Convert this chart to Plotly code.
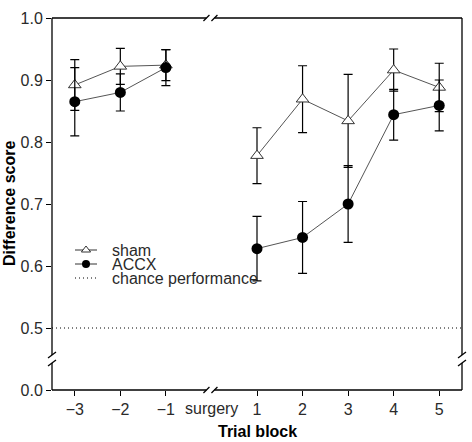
import plotly.graph_objects as go

# ---- data ----
categories = ["\u22123", "\u22122", "\u22121", "surgery", "1", "2", "3", "4", "5"]
sham = [0.892, 0.922, 0.924, None, 0.778, 0.869, 0.834, 0.916, 0.888]
sham_err = [0.041, 0.029, 0.025, None, 0.045, 0.054, 0.075, 0.034, 0.039]
accx = [0.865, 0.880, 0.920, None, 0.628, 0.646, 0.700, 0.844, 0.859]
accx_err = [0.055, 0.030, 0.029, None, 0.052, 0.058, 0.062, 0.041, 0.041]
chance = 0.5
y_tick_vals = [0.4, 0.5, 0.6, 0.7, 0.8, 0.9, 1.0]
y_tick_text = ["0.0", "0.5", "0.6", "0.7", "0.8", "0.9", "1.0"]
break_cat = "surgery"

xpos = list(range(len(categories)))
tick_idx = [i for i, c in enumerate(categories) if c != break_cat]
break_idx = categories.index(break_cat)

# ---- layout geometry (pixels) ----
W, H = 472, 442
L, R, T, B = 52, 10, 18, 52
PW, PH = W - L - R, H - T - B
XR = [-0.5, len(categories) - 0.5]
YR = [0.4, 1.0]


def fx(p):
    return (p - L) / PW


def fy(p):
    return (H - B - p) / PH


FONT = "Liberation Sans, Arial, sans-serif"
TXT = "#2a2a2a"

fig = go.Figure()

# chance line
fig.add_trace(go.Scatter(
    x=XR, y=[chance, chance], mode="lines",
    line=dict(color="black", width=1, dash="1px,3px"),
    showlegend=False, hoverinfo="skip"))

fig.add_trace(go.Scatter(
    x=xpos, y=sham, mode="lines+markers", name="sham",
    line=dict(color="#555555", width=1),
    marker=dict(symbol="triangle-up", size=11, color="white",
                line=dict(color="#333333", width=1)),
    error_y=dict(type="data", array=sham_err, color="black",
                 thickness=1.2, width=4.5),
    connectgaps=False, showlegend=False))

fig.add_trace(go.Scatter(
    x=xpos, y=accx, mode="lines+markers", name="ACCX",
    line=dict(color="#555555", width=1),
    marker=dict(symbol="circle", size=11, color="black",
                line=dict(color="black", width=0)),
    error_y=dict(type="data", array=accx_err, color="black",
                 thickness=1.2, width=4.5),
    connectgaps=False, showlegend=False))

# ---- manual legend glyphs on a hidden overlay axis (paper-like 0..1) ----
leg_rows = [250, 264, 278]
gx0, gx1, gm = 75, 97, 86
fig.add_trace(go.Scatter(
    x=[fx(gx0), fx(gx1)], y=[fy(leg_rows[0])] * 2, mode="lines",
    line=dict(color="#333333", width=1), xaxis="x2", yaxis="y2",
    showlegend=False, hoverinfo="skip"))
fig.add_trace(go.Scatter(
    x=[fx(gm)], y=[fy(leg_rows[0])], mode="markers",
    marker=dict(symbol="triangle-up", size=8, color="white",
                line=dict(color="#333333", width=1)),
    xaxis="x2", yaxis="y2", showlegend=False, hoverinfo="skip"))
fig.add_trace(go.Scatter(
    x=[fx(gx0), fx(gx1)], y=[fy(leg_rows[1])] * 2, mode="lines",
    line=dict(color="#333333", width=1), xaxis="x2", yaxis="y2",
    showlegend=False, hoverinfo="skip"))
fig.add_trace(go.Scatter(
    x=[fx(gm)], y=[fy(leg_rows[1])], mode="markers",
    marker=dict(symbol="circle", size=8, color="black"),
    xaxis="x2", yaxis="y2", showlegend=False, hoverinfo="skip"))
fig.add_trace(go.Scatter(
    x=[fx(gx0), fx(gx1 + 1)], y=[fy(leg_rows[2])] * 2, mode="lines",
    line=dict(color="black", width=1, dash="1px,3px"),
    xaxis="x2", yaxis="y2", showlegend=False, hoverinfo="skip"))

annotations = []
for row, label in zip(leg_rows, ["sham", "ACCX", "chance performance"]):
    annotations.append(dict(
        x=fx(110), y=fy(row), xref="paper", yref="paper",
        xanchor="left", yanchor="middle", showarrow=False, text=label,
        font=dict(family=FONT, size=16, color=TXT)))

# surgery label (no tick mark)
annotations.append(dict(
    x=break_idx, y=fy(408), xref="x", yref="paper", xanchor="center",
    yanchor="middle", showarrow=False, text=break_cat,
    font=dict(family=FONT, size=16, color=TXT)))

# axis titles
annotations.append(dict(
    x=0.5, y=fy(432), xref="paper", yref="paper", xanchor="center",
    yanchor="middle", showarrow=False, text="Trial block",
    font=dict(family=FONT, size=16, color="black", weight="bold")))
annotations.append(dict(
    x=fx(9), y=0.5, xref="paper", yref="paper", xanchor="center",
    yanchor="middle", showarrow=False, text="Difference score",
    textangle=-90,
    font=dict(family=FONT, size=16, color="black", weight="bold")))

# ---- frame with broken-axis marks ----
LW = 1.3
shapes = []


def seg(x0, y0, x1, y1):
    shapes.append(dict(type="line", xref="paper", yref="paper",
                       x0=fx(x0), y0=fy(y0), x1=fx(x1), y1=fy(y1),
                       line=dict(color="black", width=LW)))


xl, xr_, yt, yb = L, W - R, T, H - B
bx = L + (break_idx - XR[0]) / (XR[1] - XR[0]) * PW - 1
by = 359
g = 4
# top and bottom with x-break
for yy in (yt, yb):
    seg(xl, yy, bx - g, yy)
    seg(bx + g, yy, xr_, yy)
    seg(bx - 7, yy + 3, bx - 1, yy - 3)
    seg(bx + 1, yy + 3, bx + 7, yy - 3)
# left and right with y-break
for xx in (xl, xr_):
    seg(xx, yt, xx, by - g)
    seg(xx, by + g, xx, yb)
    seg(xx - 4, by - 1, xx + 4, by - 7)
    seg(xx - 4, by + 7, xx + 4, by + 1)

fig.update_layout(
    width=W, height=H,
    margin=dict(l=L, r=R, t=T, b=B),
    paper_bgcolor="white", plot_bgcolor="white",
    showlegend=False,
    font=dict(family=FONT, size=16, color=TXT),
    xaxis=dict(range=XR, tickmode="array", tickvals=tick_idx,
               ticktext=[categories[i] for i in tick_idx],
               ticks="outside", ticklen=5, tickwidth=1.2, tickcolor="black",
               showline=False, showgrid=False, zeroline=False,
               tickfont=dict(family=FONT, size=16, color=TXT)),
    yaxis=dict(range=YR, tickmode="array", tickvals=y_tick_vals,
               ticktext=y_tick_text,
               ticks="outside", ticklen=5, tickwidth=1.2, tickcolor="black",
               showline=False, showgrid=False, zeroline=False,
               tickfont=dict(family=FONT, size=16, color=TXT)),
    xaxis2=dict(overlaying="x", range=[0, 1], visible=False),
    yaxis2=dict(overlaying="y", range=[0, 1], visible=False),
    shapes=shapes,
    annotations=annotations,
)

fig.write_html(
    "out.html",
    config={"displayModeBar": False},
    post_script="document.body.style.margin='0';document.body.style.overflow='hidden';",
)
